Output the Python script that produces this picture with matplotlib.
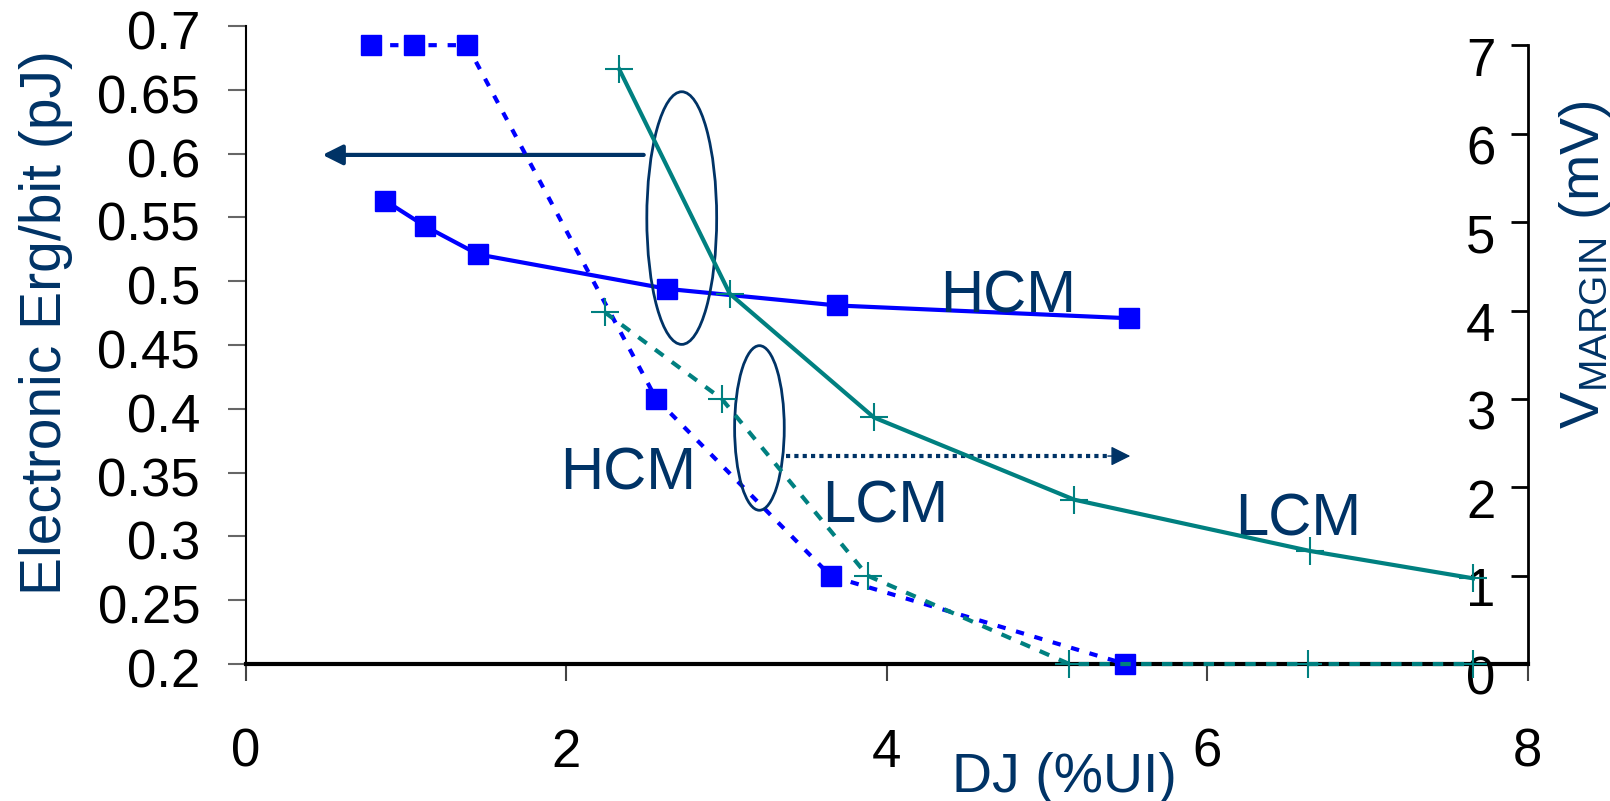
import matplotlib.pyplot as plt
from matplotlib.patches import Ellipse
from matplotlib.transforms import ScaledTranslation

plt.rcParams['font.family'] = ['Liberation Sans', 'DejaVu Sans']
plt.rcParams['mathtext.default'] = 'regular'

NAVY = '#003366'
BLUE = '#0000FF'
TEAL = '#008080'

# energy per bit (left axis, pJ)
hcm_x = [0.87, 1.12, 1.45, 2.63, 3.69, 5.51]
hcm_e = [0.563, 0.543, 0.521, 0.494, 0.481, 0.471]
lcm_x = [0.78, 1.05, 1.38, 2.56, 3.65, 5.49]
lcm_e = [0.685, 0.685, 0.685, 0.408, 0.269, 0.200]

# voltage margin (right axis, mV)
vm_solid_x = [2.33, 3.02, 3.92, 5.17, 6.64, 7.66]
vm_solid = [6.73, 4.19, 2.79, 1.86, 1.28, 0.97]
vm_dot_x = [2.24, 2.97, 3.88, 5.14, 6.63, 7.66]
vm_dot = [3.98, 3.0, 1.0, 0.0, 0.0, 0.0]

left_ticks = [0.2, 0.25, 0.3, 0.35, 0.4, 0.45, 0.5, 0.55, 0.6, 0.65, 0.7]
left_labels = ['0.2', '0.25', '0.3', '0.35', '0.4', '0.45', '0.5', '0.55', '0.6', '0.65', '0.7']
right_ticks = [0, 1, 2, 3, 4, 5, 6, 7]
x_ticks = [0, 2, 4, 6, 8]

fig = plt.figure(figsize=(16.1, 8.01), dpi=100)
ax = fig.add_axes([0.1528, 0.171, 0.796, 0.7965])
ax2 = ax.twinx()

ax.set_xlim(0, 8)
ax.set_ylim(0.2, 0.7)
ax2.set_ylim(0, 7.22)

# blue series
ax.plot(hcm_x, hcm_e, color=BLUE, lw=3, marker='s', ms=15, clip_on=False, zorder=4)
ax.plot(lcm_x, lcm_e, color=BLUE, lw=3, ls=(0, (2, 2.6)), marker='s', ms=15,
        clip_on=False, zorder=4)

# teal series
ax2.plot(vm_solid_x, vm_solid, color=TEAL, lw=3, marker='+', ms=20, mew=1.5,
         clip_on=False, zorder=3)
ax2.plot(vm_dot_x, vm_dot, color=TEAL, lw=3, ls=(0, (2.5, 2.5)), marker='+', ms=20,
         mew=1.5, clip_on=False, zorder=3)

# annotations
ax.add_patch(Ellipse((2.72, 0.5495), 0.436, 0.198, fill=False, ec=NAVY, lw=2, zorder=5))
ax.add_patch(Ellipse((3.205, 0.385), 0.31, 0.129, fill=False, ec=NAVY, lw=2, zorder=5))
ax.annotate('', xy=(0.46, 0.599), xytext=(2.5, 0.599),
            arrowprops=dict(arrowstyle='-|>', color=NAVY, lw=3, mutation_scale=30))
ax.plot([3.37, 5.40], [0.363, 0.363], color=NAVY, lw=3, ls=(0, (1, 1)), zorder=5)
ax.annotate('', xy=(5.52, 0.363), xytext=(5.38, 0.363),
            arrowprops=dict(arrowstyle='-|>', color=NAVY, lw=1, mutation_scale=30,
                            shrinkA=0, shrinkB=0))

for tx, ty, s in [(4.76, 0.488, 'HCM'), (2.385, 0.349, 'HCM'),
                  (3.99, 0.323, 'LCM'), (6.57, 0.313, 'LCM')]:
    ax.text(tx, ty, s, color=NAVY, fontsize=43, ha='center', va='center', zorder=6)

# axes styling
for sp in ['top', 'right']:
    ax.spines[sp].set_visible(False)
ax.spines['bottom'].set_linewidth(3)
ax.spines['left'].set_linewidth(1.5)
for sp in ['top', 'left', 'bottom']:
    ax2.spines[sp].set_visible(False)
ax2.spines['right'].set_linewidth(2)
ax2.spines['right'].set_bounds(0, 7)

ax.set_yticks(left_ticks)
ax.set_yticklabels(left_labels)
ax.set_xticks(x_ticks)
ax.tick_params(axis='y', direction='out', length=13, width=1.5, color='#666666',
               labelsize=38, pad=20)
ax.tick_params(axis='x', direction='out', length=12, width=1.5, color='#444444',
               labelsize=38, pad=34)
down4 = ScaledTranslation(0, -4 / 100, fig.dpi_scale_trans)
for lbl in ax.get_yticklabels():
    lbl.set_transform(lbl.get_transform() + down4)

ax2.set_yticks(right_ticks)
ax2.tick_params(axis='y', direction='in', length=12, width=2, labelsize=38, pad=-23)
down10 = ScaledTranslation(0, -11 / 100, fig.dpi_scale_trans)
for lbl in ax2.get_yticklabels():
    lbl.set_horizontalalignment('right')
    lbl.set_transform(lbl.get_transform() + down10)

fig.text(46 / 1610, 1 - 323 / 801, 'Electronic Erg/bit (pJ)', rotation=90,
         ha='center', va='center', fontsize=41, color=NAVY)
fig.text(1585 / 1610, 1 - 265 / 801, '$V_{MARGIN}$ (mV)', rotation=90,
         ha='center', va='center', fontsize=40, color=NAVY)
fig.text(1064 / 1610, 1 - 752 / 801, 'DJ (%UI)', ha='center', va='top',
         fontsize=40, color=NAVY)

fig.savefig('out.png', dpi=100)
